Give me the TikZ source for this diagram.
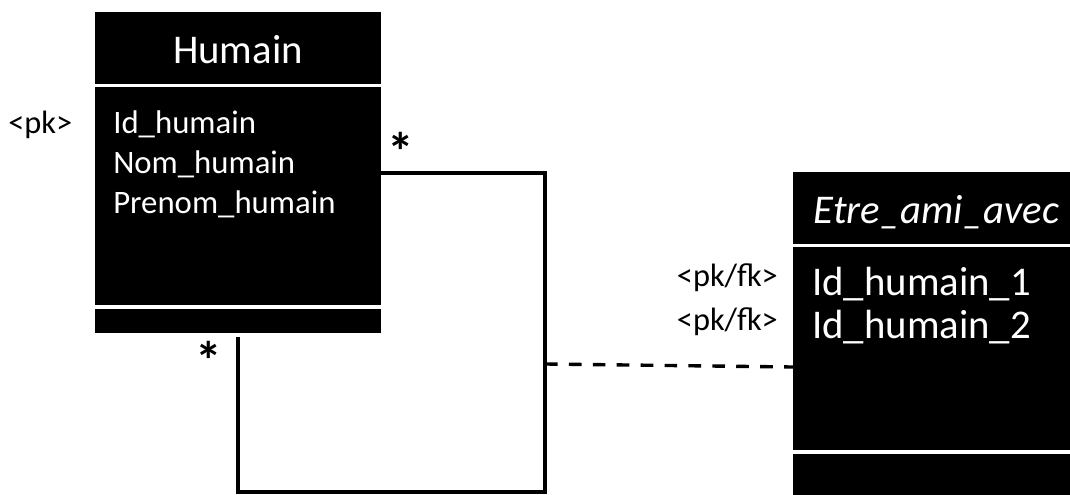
\documentclass[tikz,border=0pt]{standalone}
\usepackage{fontspec}
\setmainfont{Carlito}
\usetikzlibrary{positioning}
\begin{document}
\begin{tikzpicture}
[x=0.025cm, y=-0.025cm,
  classhead/.style={fill=black, text=white, minimum width=7.15cm,
    inner xsep=0pt, inner ysep=0pt, outer sep=0pt,
    text height=1.27cm, text depth=0.53cm,
    font=\fontsize{29}{34}\selectfont},
  classbody/.style={fill=black, minimum width=7.15cm, inner sep=0pt,
    outer sep=0pt},
  attrib/.style={text=white, inner sep=0pt, anchor=base west},
  stereo/.style={inner sep=0pt, font=\fontsize{23}{28}\selectfont},
  mult/.style={inner sep=0pt, anchor=base, font=\fontsize{38}{44}\selectfont\bfseries},
  assoc/.style={line width=2.4pt},
  assocclass/.style={line width=2.4pt, dash pattern=on 9pt off 8pt}]
\clip (0,0) rectangle (1070,494);
%% classes
\node[classhead, anchor=base] (hhead) at (238,63) {Humain};
\node[classbody, below=0.075cm of hhead, minimum height=5.45cm] (hbody) {};
\node[classbody, below=0.1cm of hbody, minimum height=0.6cm] (hfoot) {};
\node[classhead, anchor=base] (ehead) at (936.5,223) {\itshape Etre\_ami\_avec};
\node[classbody, below=0.075cm of ehead, minimum height=5.075cm] (ebody) {};
\node[classbody, below=0.1cm of ebody, minimum height=1.2cm] (efoot) {};
%% attributes
\foreach \nodename/\y/\attname in {hid/133/Id\_humain, hnom/173/Nom\_humain,
  hprenom/213/Prenom\_humain}
{
  \node[attrib, font=\fontsize{23.3}{28}\selectfont] (\nodename) at (113,\y) {\attname};
}
\foreach \nodename/\y/\attname in {eid1/295/Id\_humain\_1, eid2/338/Id\_humain\_2}
{
  \node[attrib, font=\fontsize{29}{34}\selectfont] (\nodename) at (812,\y) {\attname};
}
%% keys
\node[stereo, anchor=base west] (hpk) at (8,133) {\textless pk\textgreater};
\node[stereo, anchor=base east] (epk1) at (778,286) {\textless pk/fk\textgreater};
\node[stereo, anchor=base east] (epk2) at (778,330) {\textless pk/fk\textgreater};
%% self association with its multiplicities
\coordinate (looptr) at (545,173);
\coordinate (loopbr) at (545,492);
\coordinate (loopbl) at (238,492);
\coordinate (loopmid) at (545,364);
\draw[assoc, shorten >=2.5pt] (hbody.east |- looptr) -- (looptr) -- (loopbr)
  -- (loopbl) -- (hfoot.south);
\node[mult] (multtop) at (401,170) {*};
\node[mult] (multbot) at (209,379) {*};
%% association class link
\draw[assocclass] (loopmid) -- (ebody.west |- 0,367);
\end{tikzpicture}
\end{document}
